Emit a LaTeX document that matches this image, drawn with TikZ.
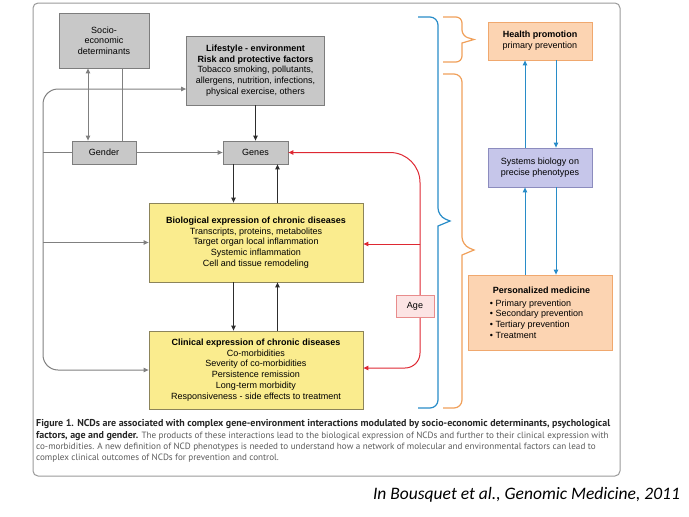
\documentclass[tikz,border=0pt]{standalone}
\usepackage{fontspec}
\setmainfont{Liberation Sans}
\newfontfamily\capfont{PT Sans}
\newfontfamily\citefont{Carlito}
\usepackage{tikz}
\usetikzlibrary{arrows.meta, positioning, calc}
\usepackage{xcolor}
\definecolor{greyFill}{RGB}{200,200,200}
\definecolor{greyDraw}{RGB}{125,125,125}
\definecolor{yelFill}{RGB}{250,236,142}
\definecolor{yelDraw}{RGB}{140,132,90}
\definecolor{orFill}{RGB}{252,212,178}
\definecolor{orDraw}{RGB}{240,168,110}
\definecolor{lavFill}{RGB}{198,198,234}
\definecolor{lavDraw}{RGB}{140,140,190}
\definecolor{ageFill}{RGB}{252,228,228}
\definecolor{ageDraw}{RGB}{232,140,140}
\definecolor{lineGrey}{RGB}{128,128,128}
\definecolor{lineDark}{RGB}{45,45,45}
\definecolor{ageRed}{RGB}{222,40,50}
\definecolor{braceBlue}{RGB}{40,140,200}
\definecolor{braceOrange}{RGB}{240,160,90}
\definecolor{capGrey}{RGB}{90,90,90}
\newcommand{\capbold}[1]{{\fontsize{10}{11.3}\selectfont\bfseries\color{black!85}#1}}

\begin{document}
\begin{tikzpicture}[x=1pt, y=-1pt,
    every node/.style={font=\fontsize{9}{10.7}\selectfont, inner sep=0pt, align=center},
    box/.style={rectangle, draw=#1Draw, fill=#1Fill, line width=0.8pt},
    garrow/.style={-{Triangle[length=5pt, width=4.5pt]}, draw=lineGrey, line width=1pt},
    gline/.style={draw=lineGrey, line width=1pt},
    darrow/.style={-{Triangle[length=5pt, width=4.5pt]}, draw=lineDark, line width=1pt},
    rarrow/.style={-{Triangle[length=5pt, width=4.5pt]}, draw=ageRed, line width=1pt},
    barrow/.style={-{Triangle[length=5pt, width=4.5pt]}, draw=braceBlue, line width=1pt},
    brace/.style={draw=#1, line width=1.2pt},
]
\useasboundingbox (0,0) rectangle (689,517);
% FRAME
\draw[draw=lineGrey!80, line width=1pt, rounded corners=5pt] (33,3) rectangle (620,476);
% LEFT COLUMN
\node[box=grey, minimum width=90, minimum height=55] (socio) at (104,40.5) {Socio-\\economic\\determinants};
\node[box=grey, minimum width=138, minimum height=69] (life) at (255.5,70.5) {\textbf{Lifestyle - environment}\\\textbf{Risk and protective factors}\\Tobacco smoking, pollutants,\\allergens, nutrition, infections,\\physical exercise, others};
\node[box=grey, minimum width=64, minimum height=23] (gender) at (104,152.5) {Gender};
\node[box=grey, minimum width=65, minimum height=23] (genes) at (255.5,152.5) {Genes};
\node[box=yel, minimum width=214, minimum height=79] (bio) at (256,242.5) {\textbf{Biological expression of chronic diseases}\\Transcripts, proteins, metabolites\\Target organ local inflammation\\Systemic inflammation\\Cell and tissue remodeling};
\node[box=yel, minimum width=214, minimum height=78] (clin) at (256,370) {\textbf{Clinical expression of chronic diseases}\\Co-morbidities\\Severity of co-morbidities\\Persistence remission\\Long-term morbidity\\Responsiveness - side effects to treatment};
\coordinate (rail) at (43,152.5);
\draw[garrow, {Triangle[length=5pt, width=4.5pt]}-{Triangle[length=5pt, width=4.5pt]}] ([xshift=-16]socio.south) -- ([xshift=-16]gender.north);
\draw[gline] ([xshift=18]socio.south) -- ([xshift=18]gender.north);
\draw[garrow] (gender.east) -- (genes.west);
\draw[gline] (rail) -- (gender.west);
\draw[garrow] (rail |- bio.west) -- (bio.west);
\draw[garrow, {Triangle[length=5pt, width=4.5pt]}-{Triangle[length=5pt, width=4.5pt]}, rounded corners=15pt] (clin.west) -| (rail) |- ([yshift=-18.5]life.west);
\draw[darrow] (life.south) -- (genes.north);
\draw[darrow] ([xshift=-22]genes.south) -- ([xshift=-22]genes.south |- bio.north);
\draw[darrow] ([xshift=22]genes.south |- bio.north) -- ([xshift=22]genes.south);
\draw[darrow] ([xshift=-22]genes.south |- bio.south) -- ([xshift=-22]genes.south |- clin.north);
\draw[darrow] ([xshift=22]genes.south |- clin.north) -- ([xshift=22]genes.south |- bio.south);
% AGE
\coordinate (agerail) at (420,244);
\draw[rarrow, rounded corners=30pt] (agerail) |- (genes.east);
\draw[rarrow] (agerail) -- (agerail -| bio.east);
\draw[rarrow, rounded corners=15pt] (agerail) |- ([yshift=2]clin.east);
\node[box=age, minimum width=38, minimum height=22] (age) at (415,306) {Age};
% BRACES
\draw[brace=braceBlue] (418,17) [rounded corners=8pt] -- (438,17) -- (438,216) [sharp corners] -- (450,221) -- (438,226) [rounded corners=8pt] -- (438,408) -- (418,408);
\draw[brace=braceOrange] (443,17) [rounded corners=6pt] -- (462,17) -- (462,36) [sharp corners] -- (474,39.5) -- (462,43) [rounded corners=6pt] -- (462,62) -- (443,62);
\draw[brace=braceOrange] (443,74) [rounded corners=8pt] -- (462,74) -- (462,245) [sharp corners] -- (474,250) -- (462,255) [rounded corners=8pt] -- (462,408) -- (443,408);
% RIGHT COLUMN
\node[box=or, minimum width=104, minimum height=38] (health) at (540,41) {\textbf{Health promotion}\\primary prevention};
\node[box=lav, minimum width=104, minimum height=39] (sysbio) at (540,167.5) {Systems biology on\\precise phenotypes};
\node[box=or, minimum width=144, minimum height=75, align=left] (perso) at (540,312.5) {\hspace{3pt}\textbf{Personalized medicine}\\[2pt]\textbullet\ Primary prevention\\\textbullet\ Secondary prevention\\\textbullet\ Tertiary prevention\\\textbullet\ Treatment};
\draw[barrow] ([xshift=-15]sysbio.north) -- ([xshift=-15]health.south);
\draw[barrow] ([xshift=16]health.south) -- ([xshift=16]sysbio.north);
\draw[barrow] ([xshift=-15]perso.north) -- ([xshift=-15]sysbio.south);
\draw[barrow] ([xshift=16]sysbio.south) -- ([xshift=16]perso.north);
% CAPTION
\node[anchor=north west, align=left, font=\capfont\fontsize{9.1}{11.3}\selectfont, text=capGrey] (caption) at (36,419.5) {\capbold{Figure 1. NCDs are associated with complex gene-environment interactions modulated by socio-economic determinants, psychological}\\\capbold{factors, age and gender.} The products of these interactions lead to the biological expression of NCDs and further to their clinical expression with\\co-morbidities. A new definition of NCD phenotypes is needed to understand how a network of molecular and environmental factors can lead to\\complex clinical outcomes of NCDs for prevention and control.};
\node[font=\citefont\itshape\fontsize{17.5}{20}\selectfont] (cite) at (526.5,495) {In Bousquet et al., Genomic Medicine, 2011};
\end{tikzpicture}
\end{document}
